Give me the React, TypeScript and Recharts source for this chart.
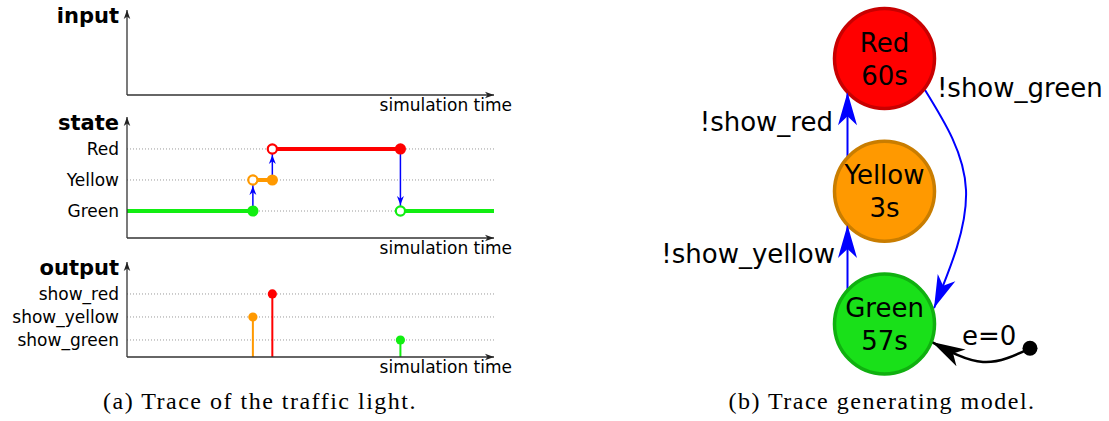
import React from 'react';
import { ComposedChart, Line, Scatter, XAxis, YAxis, ReferenceLine } from 'recharts';

// ---- trace of the traffic light (left) ----
const eventTimes = [34.3, 39.6, 74.5];
const stateNames = ['Green', 'Yellow', 'Red'];
const segStart = [0, 34.3, 39.6, 74.5];
const segEnd = [34.3, 39.6, 74.5, 100];
const segState = ['Green', 'Yellow', 'Red', 'Green'];
const transFrom = ['Green', 'Yellow', 'Red'];
const transTo = ['Yellow', 'Red', 'Green'];
const outputNames = ['show_green', 'show_yellow', 'show_red'];
const outputSignal = ['show_yellow', 'show_red', 'show_green'];

// ---- trace generating model (right) ----
const nodeNames = ['Green', 'Yellow', 'Red'];
const nodeDelay = ['57s', '3s', '60s'];
const edgeLabels = ['!show_yellow', '!show_red', '!show_green', 'e=0'];

const COLOR: Record<string, string> = { Green: '#11ee11', Yellow: '#ff9900', Red: '#ff0000' };
const OUT_COLOR: Record<string, string> = { show_green: '#11ee11', show_yellow: '#ff9900', show_red: '#ff0000' };
const NODE_FILL: Record<string, string> = { Green: '#19e019', Yellow: '#ff9900', Red: '#ff0000' };
const NODE_STROKE: Record<string, string> = { Green: '#10b010', Yellow: '#c97d00', Red: '#c80000' };
const BLUE = '#0000ff';

const H = 421;
const LEFT_W = 520;
const PLOT_L = 127;
const PLOT_R = 494;
const XAX_H = 30;
const STATE_DOM = [0.13, 4.03];
const OUT_DOM = [0.26, 4.39];

const stealth = (L: number, W: number, notch: number) =>
  `M0,0 L${-L},${-W / 2} L${-L + notch},0 L${-L},${W / 2} Z`;

const axisLine = (marker: 'markerStart' | 'markerEnd') => ({
  stroke: '#333',
  strokeWidth: 1.3,
  [marker]: 'url(#axArrow)',
});

const SimTick = (p: any) => (
  <text x={p.x + 18} y={p.y + 8} textAnchor="end" fontSize={17} fill="#000">
    simulation time
  </text>
);

function levelTick(names: string[], title: string, top: number) {
  return (p: any) => {
    const v = p.payload.value;
    if (v === top) {
      return (
        <text x={p.x} y={p.y + 13} textAnchor="end" fontSize={21} fontWeight="bold" fill="#000">
          {title}
        </text>
      );
    }
    return (
      <text x={p.x} y={p.y + 6} textAnchor="end" fontSize={17} fill="#000">
        {names[v - 1]}
      </text>
    );
  };
}

function Panel({ top, bottom, domain, names, title, children }: any) {
  return (
    <div style={{ position: 'absolute', left: 0, top: 0 }}>
      <ComposedChart
        width={LEFT_W}
        height={H}
        margin={{ top, left: 0, right: LEFT_W - PLOT_R, bottom: H - bottom - XAX_H }}
      >
        <XAxis
          type="number"
          dataKey="t"
          domain={[0, 100]}
          ticks={[100]}
          interval={0}
          tickLine={false}
          axisLine={axisLine('markerEnd')}
          height={XAX_H}
          tick={SimTick}
          allowDataOverflow
        />
        <YAxis
          type="number"
          dataKey="v"
          domain={domain}
          ticks={[...names.map((_: string, i: number) => i + 1), domain[1]]}
          interval={0}
          tickLine={false}
          axisLine={axisLine('markerStart')}
          width={PLOT_L}
          tick={levelTick(names, title, domain[1])}
          allowDataOverflow
        />
        {names.map((n: string, i: number) => (
          <ReferenceLine key={n} y={i + 1} stroke="#9a9a9a" strokeDasharray="1 2" />
        ))}
        {children}
      </ComposedChart>
    </div>
  );
}

const smallHead = stealth(9, 7, 2.8);

function TracePanels() {
  const lvl = (n: string) => stateNames.indexOf(n) + 1;
  const outLvl = (n: string) => outputNames.indexOf(n) + 1;
  return (
    <>
      {/* vertical event lines across all three panels */}
      <div style={{ position: 'absolute', left: 0, top: 0 }}>
        <ComposedChart width={LEFT_W} height={H} margin={{ top: 10, left: PLOT_L, right: LEFT_W - PLOT_R, bottom: H - 357 }}>
          <XAxis type="number" dataKey="t" domain={[0, 100]} hide />
          <YAxis type="number" domain={[0, 1]} hide />
          {eventTimes.map((t) => (
            <ReferenceLine key={t} x={t} stroke="#777" strokeDasharray="1 2" />
          ))}
        </ComposedChart>
      </div>

      <Panel top={10} bottom={95} domain={[0, 1]} names={[]} title="input" />

      <Panel top={117} bottom={238} domain={STATE_DOM} names={stateNames} title="state">
        {eventTimes.map((t, i) => {
          const up = lvl(transTo[i]) > lvl(transFrom[i]);
          return (
            <Line
              key={`tr${i}`}
              data={[{ t, v: lvl(transFrom[i]) }, { t, v: lvl(transTo[i]) }]}
              dataKey="v"
              stroke={BLUE}
              strokeWidth={1.5}
              isAnimationActive={false}
              activeDot={false}
              dot={(p: any) =>
                p.index === 1 ? (
                  <path
                    key={`h${i}`}
                    d={smallHead}
                    fill={BLUE}
                    transform={`translate(${p.cx},${p.cy + (up ? 6 : -6)}) rotate(${up ? -90 : 90})`}
                  />
                ) : (
                  <g key={`n${i}`} />
                )
              }
            />
          );
        })}
        {segStart.map((s, i) => {
          const c = COLOR[segState[i]];
          const v = lvl(segState[i]);
          return (
            <Line
              key={`seg${i}`}
              data={[{ t: s, v }, { t: segEnd[i], v }]}
              dataKey="v"
              stroke={c}
              strokeWidth={4}
              isAnimationActive={false}
              activeDot={false}
              dot={(p: any) => {
                if (p.index === 0 && i > 0)
                  return <circle key="o" cx={p.cx} cy={p.cy} r={4.6} fill="#fff" stroke={c} strokeWidth={2.2} />;
                if (p.index === 1 && i < segStart.length - 1)
                  return <circle key="f" cx={p.cx} cy={p.cy} r={5.6} fill={c} stroke="none" />;
                return <g key={`e${p.index}`} />;
              }}
            />
          );
        })}
      </Panel>

      <Panel top={262} bottom={357} domain={OUT_DOM} names={outputNames} title="output">
        {eventTimes.map((t, i) => {
          const c = OUT_COLOR[outputSignal[i]];
          return (
            <Line
              key={`out${i}`}
              data={[{ t, v: OUT_DOM[0] }, { t, v: outLvl(outputSignal[i]) }]}
              dataKey="v"
              stroke={c}
              strokeWidth={2}
              isAnimationActive={false}
              activeDot={false}
              dot={(p: any) =>
                p.index === 1 ? (
                  <circle key="d" cx={p.cx} cy={p.cy} r={4.6} fill={c} />
                ) : (
                  <g key="z" />
                )
              }
            />
          );
        })}
      </Panel>
    </>
  );
}

// model layout: one unit = distance between two node rows
const U = 132.75;
const RC_X = 640;
const RC_W = 489;
const CX = 884.5 - RC_X;
const CY = 324;
const R = 50 / U;
const OX = -37 / U;
const DY = Math.sqrt(R * R - OX * OX);

const edgePts: number[][][] = [
  [[OX, DY], [OX, 1 - DY]],
  [[OX, 1 + DY], [OX, 2 - DY]],
  [[0.305, 1.763], [0.614, 1.009], [0.373, 0.12]],
  [[1.096, -0.183], [0.742, -0.286], [0.358, -0.136]],
];
const edgeColor = [BLUE, BLUE, BLUE, '#000'];
const labelPos: [number, number, string][] = [
  [-0.373, 0.46, 'end'],
  [-0.388, 1.454, 'end'],
  [0.395, 1.71, 'start'],
  [0.584, -0.158, 'start'],
];

function endAngle(pts: number[][]) {
  let dx: number;
  let dy: number;
  if (pts.length === 2) {
    dx = pts[1][0] - pts[0][0];
    dy = pts[1][1] - pts[0][1];
  } else {
    const a = [pts[1][0] - pts[0][0], pts[1][1] - pts[0][1]];
    const b = [pts[2][0] - pts[1][0], pts[2][1] - pts[1][1]];
    dx = 1.25 * b[0] - 0.25 * a[0];
    dy = 1.25 * b[1] - 0.25 * a[1];
  }
  return (Math.atan2(-dy, dx) * 180) / Math.PI;
}

const bigHead = stealth(33, 19, 9);

function ModelPanel() {
  const nodeData = nodeNames.map((n, i) => ({ x: 0, y: i, name: n, delay: nodeDelay[i] }));
  const labelData = edgeLabels.map((text, i) => ({ x: labelPos[i][0], y: labelPos[i][1], text, anchor: labelPos[i][2] }));
  return (
    <div style={{ position: 'absolute', left: RC_X, top: 0 }}>
      <ComposedChart width={RC_W} height={H} margin={{ top: 0, right: 0, bottom: 0, left: 0 }}>
        <XAxis type="number" dataKey="x" domain={[-CX / U, (RC_W - CX) / U]} allowDataOverflow hide />
        <YAxis type="number" dataKey="y" domain={[-(H - CY) / U, CY / U]} allowDataOverflow hide />
        <Scatter
          data={nodeData}
          isAnimationActive={false}
          shape={(p: any) => (
            <g>
              <circle cx={p.cx} cy={p.cy} r={50} fill={NODE_FILL[p.payload.name]} stroke={NODE_STROKE[p.payload.name]} strokeWidth={3.5} />
              <text x={p.cx} y={p.cy - 7} textAnchor="middle" fontSize={26} fill="#000">
                {p.payload.name}
              </text>
              <text x={p.cx} y={p.cy + 26} textAnchor="middle" fontSize={26} fill="#000">
                {p.payload.delay}
              </text>
            </g>
          )}
        />
        {edgePts.map((pts, i) => {
          const ang = endAngle(pts);
          const last = pts.length - 1;
          const c = edgeColor[i];
          return (
            <Line
              key={`edge${i}`}
              data={pts.map(([x, y]) => ({ x, y }))}
              dataKey="y"
              type={pts.length > 2 ? 'natural' : 'linear'}
              stroke={c}
              strokeWidth={i === 3 ? 2.5 : 2}
              isAnimationActive={false}
              activeDot={false}
              dot={(p: any) => {
                if (p.index === last)
                  return <path key="h" d={bigHead} fill={c} transform={`translate(${p.cx},${p.cy}) rotate(${ang})`} />;
                if (p.index === 0 && i === 3) return <circle key="s" cx={p.cx} cy={p.cy} r={7.5} fill="#000" />;
                return <g key={`k${p.index}`} />;
              }}
            />
          );
        })}
        <Scatter
          data={labelData}
          isAnimationActive={false}
          shape={(p: any) => (
            <text x={p.cx} y={p.cy} textAnchor={p.payload.anchor} fontSize={26} fill="#000">
              {p.payload.text}
            </text>
          )}
        />
      </ComposedChart>
    </div>
  );
}

const captionStyle: React.CSSProperties = {
  position: 'absolute',
  top: 389,
  fontFamily: '"Liberation Serif", "Times New Roman", serif',
  fontSize: 24,
  lineHeight: '24px',
  letterSpacing: 1.5,
  textAlign: 'center',
  color: '#000',
  whiteSpace: 'nowrap',
};

export default function App() {
  return (
    <div
      style={{
        position: 'absolute',
        left: 0,
        top: 0,
        width: 1109,
        height: H,
        background: '#fff',
        fontFamily: '"DejaVu Sans", sans-serif',
        overflow: 'hidden',
      }}
    >
      <svg width={0} height={0} style={{ position: 'absolute' }}>
        <defs>
          <marker
            id="axArrow"
            viewBox="-10 -5 12 10"
            refX={0}
            refY={0}
            markerWidth={12}
            markerHeight={10}
            markerUnits="userSpaceOnUse"
            orient="auto-start-reverse"
          >
            <path d={stealth(9, 6.5, 2.5)} fill="#222" />
          </marker>
        </defs>
      </svg>
      <TracePanels />
      <ModelPanel />
      <div style={{ ...captionStyle, left: 10, width: 500 }}>(a) Trace of the traffic light.</div>
      <div style={{ ...captionStyle, left: 632, width: 500 }}>(b) Trace generating model.</div>
    </div>
  );
}
